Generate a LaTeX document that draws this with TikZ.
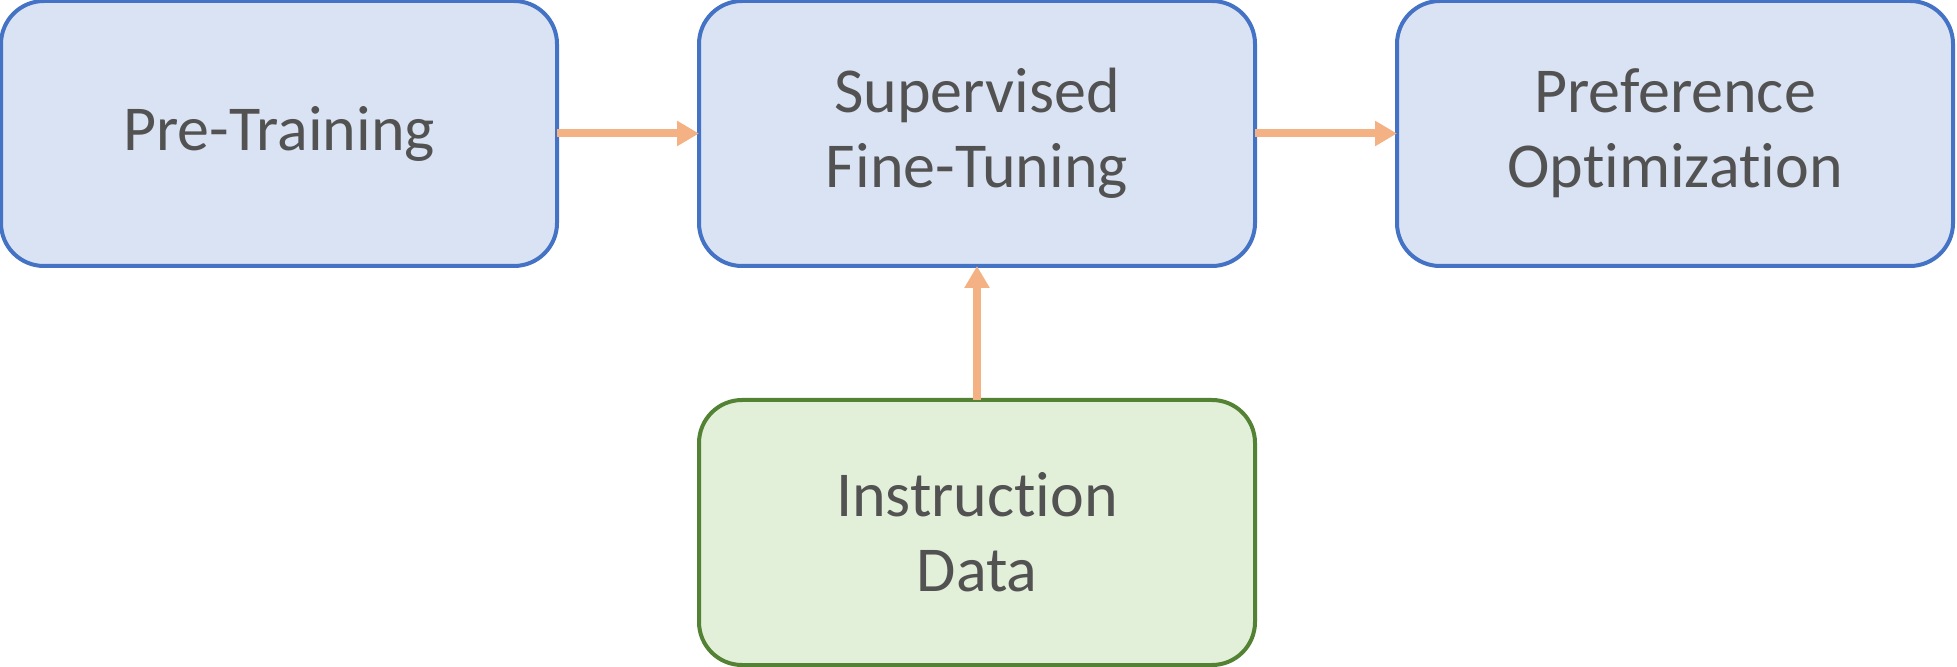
\documentclass[tikz,border=0pt]{standalone}
\usepackage{fontspec}
\setmainfont[RawFeature={-liga;-calt;-dlig;-clig}]{Carlito}
\usetikzlibrary{positioning,arrows.meta}

\definecolor{stagefill}{RGB}{218,227,243}
\definecolor{stageline}{RGB}{68,114,196}
\definecolor{datafill}{RGB}{226,240,217}
\definecolor{dataline}{RGB}{84,130,53}
\definecolor{flowcol}{RGB}{244,177,131}
\definecolor{txtcol}{RGB}{82,82,82}

\tikzset{
  stage/.style={draw=stageline, fill=stagefill, line width=2pt, rounded corners=21.5pt,
    minimum width=278pt, minimum height=132.5pt, outer sep=0pt, align=center,
    text=txtcol, font=\fontsize{32}{37.5}\selectfont},
  datastage/.style={stage, draw=dataline, fill=datafill},
  flow/.style={draw=flowcol, line width=4pt, -{Triangle[length=11pt,width=12pt]}}
}

\begin{document}
\begin{tikzpicture}
\useasboundingbox (0,0) rectangle (978.5pt,-333.5pt);

%Shape: training stages
\node[stage] (pre) at (139.5pt,-66.75pt) {Pre-Training};
\node[stage, right=71pt of pre] (sft) {Supervised\\Fine-Tuning};
\node[stage, right=71pt of sft] (pref) {Preference\\Optimization};
%Shape: data source
\node[datastage, below=67pt of sft] (data) {Instruction\\Data};

%Straight Lines
\draw[flow] (pre) -- (sft);
\draw[flow] (sft) -- (pref);
\draw[flow] (data) -- (sft);

\end{tikzpicture}
\end{document}
